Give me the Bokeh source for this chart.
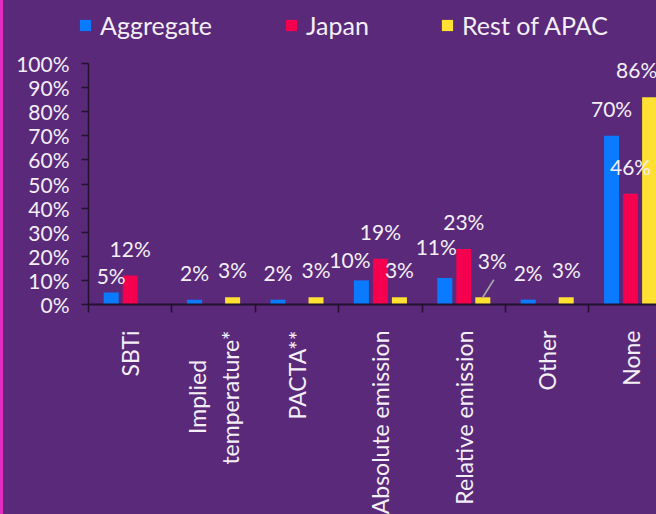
import math
from bokeh.plotting import figure
from bokeh.models import (ColumnDataSource, Range1d, FixedTicker, PrintfTickFormatter,
                          LabelSet, Legend, LegendItem)
from bokeh.core.properties import value
from bokeh.embed import file_html
from bokeh.resources import INLINE

# ---------------- data ----------------
categories = ["SBTi", "Implied\u00a0\u00a0\u00a0\u00a0\u00a0\ntemperature*", "PACTA**",
              "Absolute emission", "Relative emission", "Other", "None"]
series = ["Aggregate", "Japan", "Rest of APAC"]
aggregate = [5, 2, 2, 10, 11, 2, 70]
japan = [12, None, None, 19, 23, None, 46]
rest_apac = [None, 3, 3, 3, 3, 3, 86]
y_ticks = [0, 10, 20, 30, 40, 50, 60, 70, 80, 90, 100]

# ---------------- style ----------------
colors = ["#0a7bff", "#f5004f", "#ffe033"]
BG = "#5a297a"
TXT = "#f4eff6"
AXIS = "#22122f"
FONT = "Lato"
W, H = 656, 514
AXIS_X, FRAME_T, FRAME_B = 88, 63, 304
CAT_PX = 83.4
x_start = -AXIS_X / CAT_PX
x_end = (W - AXIS_X) / CAT_PX
PX_PER_PCT = (FRAME_B - FRAME_T) / 100.0
y_end = 100 + FRAME_T / PX_PER_PCT       # frame spans the whole figure
y_start = -(H - FRAME_B) / PX_PER_PCT
bar_off = [-0.228, 0.0, 0.228]
bar_w = 0.18
LABEL_UP = 27.5
# manual label nudges (series, category) -> (dx px, dy px)
nudges = {(0, 0): (0, -10.5), (0, 3): (-11.5, -7), (0, 4): (-8.5, 3.5),
          (2, 4): (9.5, 9.5), (2, 6): (-13, 0)}
legend_x = [78, 284, 440]   # px from the left edge for each legend entry
legend_y = H - 40           # px from the bottom edge (legend box bottom)

p = figure(width=W, height=H, x_range=Range1d(x_start, x_end), y_range=Range1d(y_start, y_end),
           output_backend="svg", toolbar_location=None,
           min_border_left=0, min_border_right=0, min_border_top=0, min_border_bottom=0,
           background_fill_color=None, border_fill_color=None, outline_line_color=None)
p.grid.visible = False

all_vals = [aggregate, japan, rest_apac]
renderers = []
lab = dict(x=[], y=[], text=[], dx=[], dy=[])
for s, vals in enumerate(all_vals):
    xs, tops = [], []
    for i, v in enumerate(vals):
        if v is None:
            continue
        xb = i + 0.5 + bar_off[s]
        xs.append(xb)
        tops.append(v)
        dx, dy = nudges.get((s, i), (0, 0))
        lab["x"].append(xb)
        lab["y"].append(v)
        lab["text"].append(f"{v}%")
        lab["dx"].append(dx)
        lab["dy"].append(LABEL_UP + dy)
    src = ColumnDataSource(dict(x=xs, top=tops))
    r = p.vbar(x="x", top="top", width=bar_w, bottom=0, source=src,
               fill_color=colors[s], line_color=None)
    renderers.append(r)

# leader line for the nudged Relative emission / Rest of APAC label
xl = 4 + 0.5 + bar_off[2]
vl = rest_apac[4]
p.segment(x0=[xl], y0=[vl], x1=[xl + 11 / CAT_PX], y1=[vl + 17.5 / PX_PER_PCT],
          line_color="#a9a9a9", line_width=1.6)

labels = LabelSet(x="x", y="y", text="text", x_offset="dx", y_offset="dy",
                  source=ColumnDataSource(lab), text_align="center",
                  text_baseline="middle", text_font=value(FONT),
                  text_font_size="21px", text_color=TXT)
p.add_layout(labels)

# y axis (pinned at x = 0)
ya = p.yaxis[0]
ya.fixed_location = 0
ya.ticker = FixedTicker(ticks=y_ticks)
ya.bounds = (0, 100)
ya.formatter = PrintfTickFormatter(format="%d%%")
ya.axis_line_color = AXIS
ya.axis_line_width = 1.5
ya.major_tick_line_color = AXIS
ya.major_tick_line_width = 1.5
ya.major_tick_out = 7
ya.major_tick_in = 0
ya.minor_tick_line_color = None
ya.major_label_text_font = FONT
ya.major_label_text_font_size = "21px"
ya.major_label_text_color = TXT
ya.major_label_standoff = 12

# x axis (pinned at y = 0)
xa = p.xaxis[0]
xa.fixed_location = 0
xa.bounds = (0, len(categories))
xa.ticker = FixedTicker(ticks=[i + 0.5 for i in range(len(categories))],
                        minor_ticks=list(range(len(categories) + 1)))
xa.major_label_overrides = {i + 0.5: c for i, c in enumerate(categories)}
xa.axis_line_color = AXIS
xa.axis_line_width = 2
xa.major_tick_out = 0
xa.major_tick_in = 0
xa.major_tick_line_color = None
xa.minor_tick_line_color = AXIS
xa.minor_tick_line_width = 1.5
xa.minor_tick_out = 8
xa.minor_tick_in = 0
xa.major_label_orientation = math.pi / 2
xa.major_label_text_font = FONT
xa.major_label_text_font_size = "23px"
xa.major_label_text_color = TXT
xa.major_label_standoff = 18

for k in range(3):
    lg = Legend(items=[LegendItem(label=series[k], renderers=[renderers[k]])],
                orientation="horizontal", location=(legend_x[k], legend_y),
                glyph_width=14, glyph_height=14, label_standoff=8,
                padding=0, margin=0, border_line_color=None, background_fill_alpha=0,
                label_text_color=TXT, label_text_font=FONT, label_text_font_size="25px")
    p.add_layout(lg)

html = file_html(p, INLINE, title="chart")
css = ("<style>html{height:100%;}html,body{margin:0;padding:0;overflow:hidden;"
       "background:linear-gradient(to right,#e52cc0 0px,#e52cc0 3px," + BG + " 3px);}</style>")
html = html.replace("<head>", "<head>" + css, 1)
open("out.html", "w").write(html)
